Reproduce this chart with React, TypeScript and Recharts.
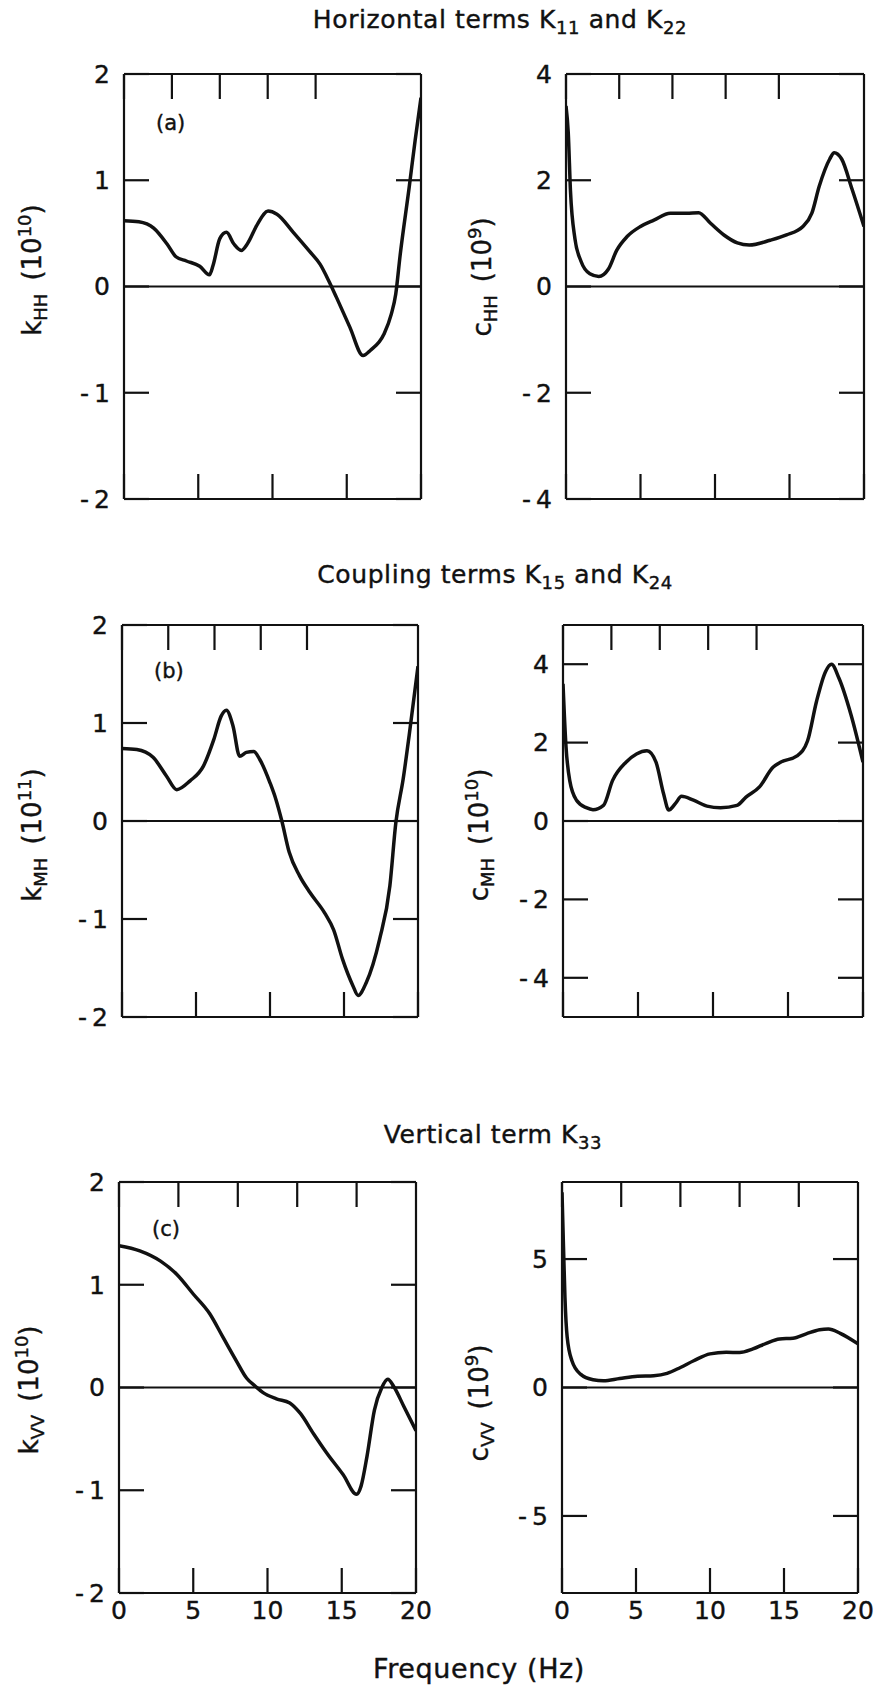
import React from "react";
import { LineChart, Line, XAxis, YAxis, ReferenceLine } from "recharts";

// frequency ticks shared by all panels
const freqTicks = [0, 5, 10, 15, 20];

// (a) horizontal terms
const kHHFreq = [0, 1, 2, 2.9, 3.5, 4.2, 5.1, 5.75, 6.0, 6.45, 6.9, 7.4, 7.9, 8.3, 9.0, 9.7, 10.3, 11.4, 12.5, 13.2, 13.8, 14.3, 15.2, 16.1, 16.6, 17.5, 18.0, 18.3, 18.6, 19.2, 19.6, 20];
const kHHVal = [0.62, 0.61, 0.55, 0.4, 0.28, 0.24, 0.19, 0.11, 0.2, 0.45, 0.51, 0.4, 0.34, 0.4, 0.59, 0.71, 0.68, 0.51, 0.33, 0.21, 0.05, -0.1, -0.38, -0.65, -0.6, -0.45, -0.26, -0.07, 0.3, 0.93, 1.37, 1.78];
const cHHFreq = [0, 0.15, 0.3, 0.6, 1.0, 1.6, 2.2, 2.85, 3.4, 4.1, 5.0, 5.9, 7.0, 8.1, 8.9, 9.7, 10.6, 11.5, 12.3, 13.7, 14.8, 15.9, 16.5, 17.0, 17.7, 18.0, 18.5, 19.2, 20];
const cHHVal = [3.4, 2.9, 1.8, 0.9, 0.48, 0.24, 0.19, 0.33, 0.68, 0.94, 1.13, 1.25, 1.38, 1.38, 1.39, 1.19, 0.97, 0.82, 0.78, 0.87, 0.97, 1.13, 1.38, 1.89, 2.4, 2.52, 2.4, 1.83, 1.13];

// (b) coupling terms
const kMHFreq = [0, 1.0, 2.1, 3.0, 3.7, 4.6, 5.5, 6.2, 6.7, 7.05, 7.5, 7.95, 8.4, 8.9, 9.3, 10.0, 10.4, 10.8, 11.3, 12.0, 12.7, 13.7, 14.3, 14.9, 15.6, 15.95, 16.5, 17.4, 18.1, 18.5, 19.0, 19.4, 20];
const kMHVal = [0.74, 0.73, 0.65, 0.46, 0.32, 0.41, 0.56, 0.83, 1.07, 1.13, 0.97, 0.66, 0.7, 0.71, 0.63, 0.39, 0.22, 0.0, -0.32, -0.56, -0.73, -0.94, -1.11, -1.41, -1.68, -1.78, -1.65, -1.21, -0.66, -0.02, 0.43, 0.87, 1.58];
const cMHFreq = [0, 0.2, 0.45, 0.9, 1.55, 2.0, 2.7, 3.3, 4.2, 4.9, 5.6, 6.2, 6.7, 7.05, 7.5, 7.9, 8.7, 9.6, 10.5, 11.6, 12.2, 13.1, 14.0, 14.5, 15.6, 16.3, 16.9, 17.5, 17.9, 18.4, 19.2, 20];
const cMHVal = [3.5, 1.9, 1.03, 0.53, 0.34, 0.29, 0.4, 1.03, 1.5, 1.71, 1.79, 1.5, 0.7, 0.28, 0.45, 0.63, 0.53, 0.38, 0.34, 0.4, 0.61, 0.87, 1.37, 1.5, 1.66, 2.04, 3.05, 3.81, 4.0, 3.64, 2.71, 1.5];

// (c) vertical term
const kVVFreq = [0, 1.4, 2.8, 3.9, 5.0, 6.1, 7.0, 7.9, 8.6, 9.2, 9.7, 10.6, 11.5, 12.2, 13.1, 14.0, 15.1, 16.0, 16.3, 16.7, 17.2, 17.7, 18.1, 18.5, 19.2, 20];
const kVVVal = [1.38, 1.33, 1.23, 1.1, 0.91, 0.72, 0.49, 0.26, 0.09, 0.01, -0.05, -0.11, -0.15, -0.25, -0.45, -0.64, -0.85, -1.04, -0.96, -0.67, -0.22, 0.0, 0.08, 0.01, -0.19, -0.42];
const cVVFreq = [0, 0.1, 0.2, 0.35, 0.67, 1.25, 2.1, 2.8, 3.9, 5.1, 6.2, 7.1, 8.0, 8.9, 10.0, 11.1, 12.0, 12.9, 13.8, 14.7, 15.6, 16.5, 17.4, 18.0, 18.8, 20];
const cVVVal = [7.6, 5.5, 3.5, 1.96, 1.04, 0.52, 0.3, 0.26, 0.35, 0.44, 0.46, 0.55, 0.78, 1.04, 1.31, 1.37, 1.36, 1.5, 1.72, 1.89, 1.92, 2.09, 2.25, 2.28, 2.11, 1.7];

const FONT = "'DejaVu Sans', 'Liberation Sans', sans-serif";
const INK = "#111";
const TEXT_STROKE = "0.4px #111";

const fmt = (v: number) => (v < 0 ? `-\u2009${Math.abs(v)}` : `${v}`);
// draws the tick line but no label
const noLabel = () => <g />;

type PanelProps = {
  x: number;
  y: number;
  w: number;
  h: number;
  freq: number[];
  vals: number[];
  domain: [number, number];
  ticks: number[];
  showX?: boolean;
};

function Panel({ x, y, w, h, freq, vals, domain, ticks, showX }: PanelProps) {
  const data = freq.map((f, i) => ({ f, v: vals[i] }));
  const axisLine = { stroke: INK, strokeWidth: 2.2 };
  const tickLine = { stroke: INK, strokeWidth: 2.2 };
  const tickStyle = { fill: INK, fontSize: 25, fontFamily: FONT, stroke: INK, strokeWidth: 0.4 };
  return (
    <div style={{ position: "absolute", left: x - 100, top: y - 20 }}>
      <LineChart
        width={w + 120}
        height={h + 70}
        data={data}
        margin={{ top: 0, right: 0, bottom: 10, left: 40 }}
      >
        <XAxis
          dataKey="f"
          type="number"
          domain={[0, 20]}
          ticks={freqTicks}
          allowDataOverflow
          height={40}
          axisLine={axisLine}
          tickLine={tickLine}
          tickSize={-25}
          tickMargin={33}
          tick={showX ? tickStyle : noLabel}
          interval={0}
        />
        <XAxis
          xAxisId="top"
          orientation="top"
          type="number"
          domain={[0, 20]}
          ticks={freqTicks}
          allowDataOverflow
          height={20}
          axisLine={axisLine}
          tickLine={tickLine}
          tickSize={-25}
          tick={noLabel}
          interval={0}
        />
        <YAxis
          type="number"
          domain={domain}
          ticks={ticks}
          allowDataOverflow
          width={60}
          axisLine={axisLine}
          tickLine={tickLine}
          tickSize={-25}
          tickMargin={39}
          tick={tickStyle}
          tickFormatter={fmt}
          interval={0}
        />
        <YAxis
          yAxisId="right"
          orientation="right"
          type="number"
          domain={domain}
          ticks={ticks}
          allowDataOverflow
          width={20}
          axisLine={axisLine}
          tickLine={tickLine}
          tickSize={-25}
          tick={noLabel}
          interval={0}
        />
        <ReferenceLine y={0} stroke={INK} strokeWidth={2.2} />
        <Line
          type="monotone"
          dataKey="v"
          stroke={INK}
          strokeWidth={3.5}
          dot={false}
          isAnimationActive={false}
        />
      </LineChart>
    </div>
  );
}

function YLabel({ cx, cy, sym, sub, exp }: { cx: number; cy: number; sym: string; sub: string; exp: string }) {
  return (
    <div
      style={{
        position: "absolute",
        left: cx,
        top: cy,
        transform: "translate(-50%, -50%) rotate(-90deg)",
        whiteSpace: "nowrap",
        fontFamily: FONT,
        fontSize: 26,
        color: INK,
        WebkitTextStroke: TEXT_STROKE,
        lineHeight: "30px",
      }}
    >
      {sym}
      <sub style={{ fontSize: 18 }}>{sub}</sub>
      {"\u2002("}10<sup style={{ fontSize: 18 }}>{exp}</sup>)
    </div>
  );
}

function Title({ cx, base, size = 25, children }: { cx: number; base: number; size?: number; children: React.ReactNode }) {
  return (
    <div
      style={{
        position: "absolute",
        left: cx,
        top: base - Math.round(size * 0.84),
        transform: "translateX(-50%)",
        whiteSpace: "nowrap",
        fontFamily: FONT,
        fontSize: size,
        letterSpacing: 0.6,
        lineHeight: `${size}px`,
        color: INK,
        WebkitTextStroke: TEXT_STROKE,
      }}
    >
      {children}
    </div>
  );
}

function Tag({ x, base, text }: { x: number; base: number; text: string }) {
  return (
    <div
      style={{
        position: "absolute",
        left: x,
        top: base - 18,
        fontFamily: FONT,
        fontSize: 21,
        lineHeight: "21px",
        color: INK,
        WebkitTextStroke: TEXT_STROKE,
      }}
    >
      {text}
    </div>
  );
}

const subStyle = { fontSize: 18 };

export default function App() {
  return (
    <div style={{ position: "absolute", left: 0, top: 0, width: 877, height: 1688, background: "#fff" }}>
      <Title cx={500} base={28}>
        Horizontal terms K<sub style={subStyle}>11</sub> and K<sub style={subStyle}>22</sub>
      </Title>
      <Title cx={495} base={583}>
        Coupling terms K<sub style={subStyle}>15</sub> and K<sub style={subStyle}>24</sub>
      </Title>
      <Title cx={493} base={1143}>
        Vertical term K<sub style={subStyle}>33</sub>
      </Title>

      <Panel x={124} y={74} w={297} h={425} freq={kHHFreq} vals={kHHVal} domain={[-2, 2]} ticks={[-2, -1, 0, 1, 2]} />
      <Panel x={566} y={74} w={298} h={425} freq={cHHFreq} vals={cHHVal} domain={[-4, 4]} ticks={[-4, -2, 0, 2, 4]} />
      <Panel x={122} y={625} w={296} h={392} freq={kMHFreq} vals={kMHVal} domain={[-2, 2]} ticks={[-2, -1, 0, 1, 2]} />
      <Panel x={563} y={625} w={300} h={392} freq={cMHFreq} vals={cMHVal} domain={[-5, 5]} ticks={[-4, -2, 0, 2, 4]} />
      <Panel x={119} y={1182} w={297} h={411} freq={kVVFreq} vals={kVVVal} domain={[-2, 2]} ticks={[-2, -1, 0, 1, 2]} showX />
      <Panel x={562} y={1182} w={296} h={411} freq={cVVFreq} vals={cVVVal} domain={[-8, 8]} ticks={[-5, 0, 5]} showX />

      <Tag x={156} base={131} text="(a)" />
      <Tag x={154} base={679} text="(b)" />
      <Tag x={152} base={1237} text="(c)" />

      <YLabel cx={33} cy={270} sym="k" sub="HH" exp="10" />
      <YLabel cx={483} cy={277} sym="c" sub="HH" exp="9" />
      <YLabel cx={33} cy={835} sym="k" sub="MH" exp="11" />
      <YLabel cx={480} cy={835} sym="c" sub="MH" exp="10" />
      <YLabel cx={30} cy={1390} sym="k" sub="VV" exp="10" />
      <YLabel cx={480} cy={1403} sym="c" sub="VV" exp="9" />

      <Title cx={479} base={1678} size={27}>Frequency (Hz)</Title>
    </div>
  );
}
